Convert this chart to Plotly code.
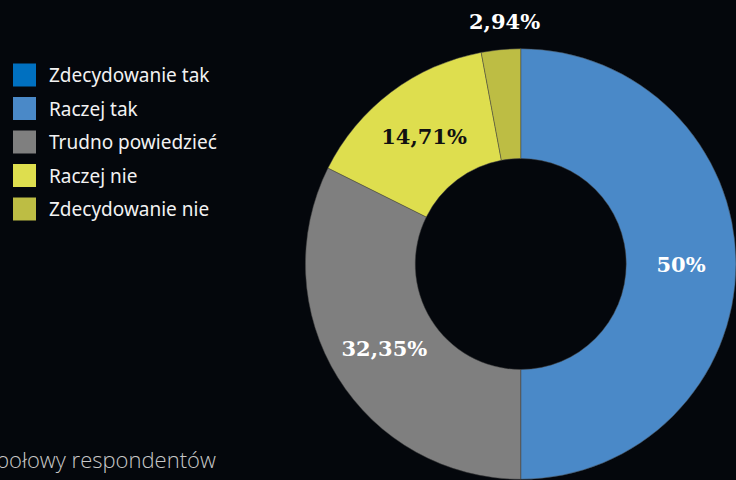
import plotly.graph_objects as go

categories = ["Zdecydowanie tak", "Raczej tak", "Trudno powiedzieć", "Raczej nie", "Zdecydowanie nie"]
values = [0, 50, 32.35, 14.71, 2.94]
colors = ["#0070C0", "#4A89C8", "#7F7F7F", "#DEDE4E", "#BDBD44"]
text_colors = ["#FFFFFF", "#FFFFFF", "#FFFFFF", "#111111", "#FFFFFF"]
text_positions = ["inside", "inside", "inside", "inside", "none"]
footer_text = "połowy respondentów"

labels_txt = [f"{v:g}".replace(".", ",") + "%" for v in values]

W, H = 736, 480
BG = "#04070C"

fig = go.Figure()
fig.add_trace(go.Pie(
    labels=categories,
    values=values,
    text=labels_txt,
    textinfo="text",
    textposition=text_positions,
    insidetextorientation="horizontal",
    textfont=dict(family="DejaVu Serif", size=21, color=text_colors, weight="bold"),
    marker=dict(colors=colors, line=dict(color="rgba(70,70,70,0.7)", width=0.7)),
    hole=0.49,
    sort=False,
    direction="clockwise",
    rotation=0,
    showlegend=False,
    domain=dict(x=[0.415, 1.0], y=[0.0, 0.9]),
    hoverinfo="skip",
))

# manual legend (swatches + labels)
shapes = []
annotations = []
row0 = 75
gap = 33.5
sw = 23
for i, (cat, col) in enumerate(zip(categories, colors)):
    cy = row0 + i * gap
    shapes.append(dict(type="rect", xref="paper", yref="paper",
                       x0=13 / W, x1=(13 + sw) / W,
                       y0=1 - (cy + sw / 2) / H, y1=1 - (cy - sw / 2) / H,
                       fillcolor=col, line=dict(width=0)))
    annotations.append(dict(x=47 / W, y=1 - cy / H, xref="paper", yref="paper",
                            text=cat, showarrow=False, xanchor="left", yanchor="middle",
                            font=dict(family="Noto Sans", size=19, color="#F2F2F2")))

# label of the thin last slice, placed above the ring
annotations.append(dict(x=504 / W, y=1 - 22 / H, xref="paper", yref="paper",
                        text=labels_txt[4], showarrow=False, xanchor="center", yanchor="middle",
                        font=dict(family="DejaVu Serif", size=21, color="#FFFFFF", weight="bold")))

annotations.append(dict(x=218 / W, y=1 - 459 / H, xref="paper", yref="paper",
                        text=footer_text, showarrow=False, xanchor="right", yanchor="middle",
                        font=dict(family="Open Sans", size=22, color="#C8C8C8", weight=300)))

fig.update_layout(
    width=W, height=H,
    margin=dict(l=0, r=0, t=0, b=0),
    paper_bgcolor=BG, plot_bgcolor=BG,
    shapes=shapes, annotations=annotations,
)

fig.write_html("out.html", config={"displayModeBar": False},
               post_script="document.body.style.margin='0';document.body.style.overflow='hidden';")
